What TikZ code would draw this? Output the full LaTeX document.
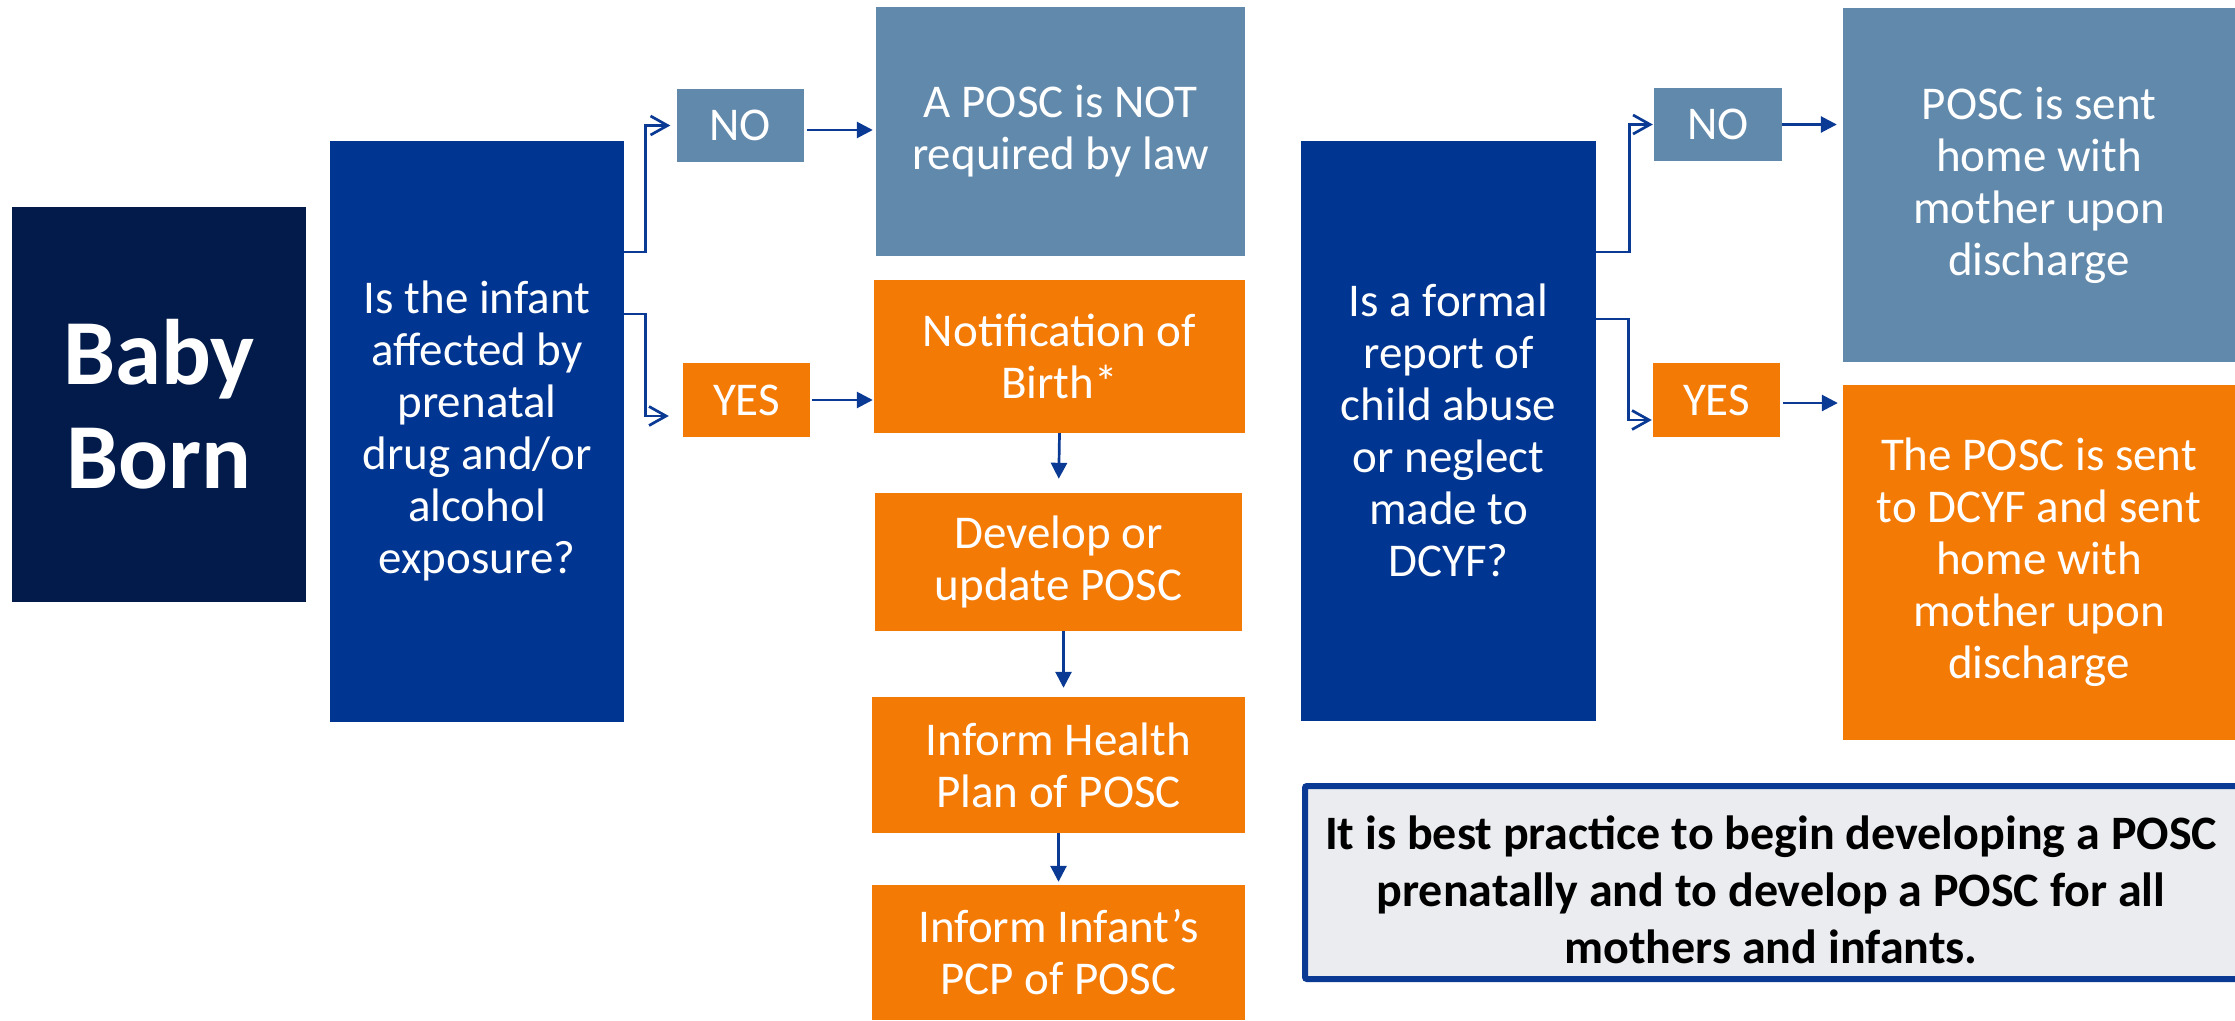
\documentclass[tikz,border=0pt]{standalone}
\usepackage{fontspec}
\setmainfont{Carlito}
\usetikzlibrary{arrows.meta}

\definecolor{navybox}{HTML}{021B4A}
\definecolor{askblue}{HTML}{003591}
\definecolor{steelbox}{HTML}{6189AC}
\definecolor{orangebox}{HTML}{F47A06}
\definecolor{linkblue}{HTML}{0A3A94}
\definecolor{notegray}{HTML}{EBECEF}

\begin{document}
\begin{tikzpicture}[x=1pt,y=-1pt,
			boxnode/.style={text=white, align=center, inner sep=0pt, font=\fontsize{47}{52}\selectfont},
			asknode/.style={boxnode, fill=askblue, minimum width=294, minimum height=581},
			steelnode/.style={boxnode, fill=steelbox},
			orangenode/.style={boxnode, fill=orangebox},
			elbow/.style={draw=linkblue, line width=2.7pt, -{Straight Barb[length=17pt,width=19pt]}},
			link/.style={draw=linkblue, line width=2.7pt, -{Triangle[length=16pt,width=16pt]}}
		]
		\useasboundingbox (0,0) rectangle (2235,1020);

		\node[boxnode, fill=navybox, minimum width=294.5, minimum height=395, font=\bfseries\fontsize{93}{104}\selectfont] (born) at (159,404.5) {Baby\\Born};

		% left question
		\node[asknode] (q1) at (477,431) {Is the infant\\affected by\\prenatal\\drug and/or\\alcohol\\exposure?};
		\node[steelnode, minimum width=127, minimum height=73] (no1) at (740,125.5) {NO};
		\node[orangenode, minimum width=127, minimum height=74] (yes1) at (746.5,400) {YES};
		\node[steelnode, minimum width=369, minimum height=249] (notreq) at (1060.5,131.5) {A POSC is NOT\\required by law};
		\node[orangenode, minimum width=371, minimum height=153] (notif) at (1059.5,356.5) {Notification of\\Birth*};
		\node[orangenode, minimum width=367, minimum height=138] (dev) at (1058.5,562) {Develop or\\update POSC};
		\node[orangenode, minimum width=373, minimum height=136] (health) at (1058.5,765) {Inform Health\\Plan of POSC};
		\node[orangenode, minimum width=373, minimum height=135] (infant) at (1058.5,952.5) {Inform Infant’s\\PCP of POSC};

		% right question
		\node[asknode, minimum width=295, minimum height=580] (q2) at (1448.5,430.5) {Is a formal\\report of\\child abuse\\or neglect\\made to\\DCYF?};
		\node[steelnode, minimum width=128, minimum height=73] (no2) at (1718,124.5) {NO};
		\node[orangenode, minimum width=127, minimum height=74] (yes2) at (1716.5,400) {YES};
		\node[steelnode, minimum width=392, minimum height=354] (sent) at (2039,185) {POSC is sent\\home with\\mother upon\\discharge};
		\node[orangenode, minimum width=392, minimum height=355] (dcyf) at (2039,562.5) {The POSC is sent\\to DCYF and sent\\home with\\mother upon\\discharge};

		% note
		\node[draw=linkblue, line width=6pt, rounded corners=2pt, fill=notegray, minimum width=935, minimum height=193] (note) at (1772.5,882.5) {};
		\node[align=center, inner sep=0pt, font=\bfseries\fontsize{48}{57}\selectfont] (notetext) at (1771,890) {It is best practice to begin developing a POSC\\prenatally and to develop a POSC for all\\mothers and infants.};

		% connectors
		\draw[elbow, shorten >=6pt] ([yshift=179pt]q1.east) -- ++(21,0) |- (no1.west);
		\draw[elbow, shorten >=14pt] ([yshift=117pt]q1.east) -- ++(21,0) |- ([yshift=-16pt]yes1.west);
		\draw[link, shorten <=3pt, shorten >=3pt] ([yshift=-4.5pt]no1.east) -- ([yshift=-4.5pt]no1.east -| notreq.west);
		\draw[link, shorten <=2pt, shorten >=1pt] (yes1.east) -- (yes1.east -| notif.west);
		\draw[link, shorten >=14pt] (notif.south) -- (dev.north);
		\draw[link, shorten >=9pt] ([xshift=5pt]dev.south) -- ([xshift=5pt]health.north);
		\draw[link, shorten >=3pt] (health.south) -- (infant.north);

		\draw[elbow, shorten >=1pt] ([yshift=178.5pt]q2.east) -- ++(33,0) |- (no2.west);
		\draw[elbow, shorten >=1pt] ([yshift=111.5pt]q2.east) -- ++(32,0) |- ([yshift=-20pt]yes2.west);
		\draw[link, shorten >=6pt] (no2.east) -- (no2.east -| sent.west);
		\draw[link, shorten <=3pt, shorten >=5pt] ([yshift=-3pt]yes2.east) -- ([yshift=-3pt]yes2.east -| dcyf.west);
	\end{tikzpicture}
\end{document}
